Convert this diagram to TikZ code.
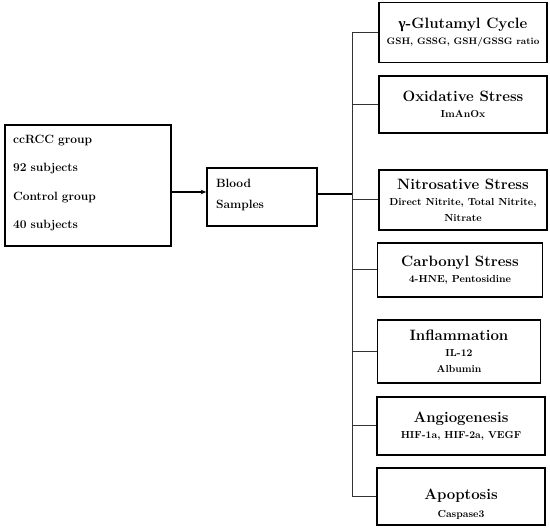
\documentclass[tikz,border=0pt]{standalone}
\usepackage{fontspec}
\newfontfamily\grk{Liberation Serif}
\usetikzlibrary{arrows.meta}
\newcommand\ttl{\fontsize{15}{19}\selectfont\bfseries}
\newcommand\sbt{\fontsize{10.2}{16}\selectfont\bfseries}
\newcommand\lft{\fontsize{12}{28.3}\selectfont\bfseries}
\tikzset{
  node-box/.style={draw=black,line width=1.4pt,inner sep=0pt,align=center,font=\sbt},
  node-left/.style={draw=black,line width=1.4pt,inner ysep=0pt,align=left},
  arrow/.style={-{Stealth[length=2mm,width=1.6mm]},line width=1.8pt,draw=black},
  link/.style={line width=1.4pt,draw=black},
  trunk/.style={line width=1pt,draw=black!80},
  branch/.style={line width=1pt,draw=black!80},
}
\begin{document}
\begin{tikzpicture}[x=1pt,y=-1pt]
  \useasboundingbox (0,0) rectangle (550,532);
  % groups and samples
  \node[node-left,inner xsep=8pt,text width=150pt,minimum height=121pt,font=\lft] (grp) at (88,185.5)
    {ccRCC group\\92 subjects\\Control group\\40 subjects\\[-21pt]\mbox{}};
  \node[node-left,inner xsep=9pt,text width=92pt,minimum height=58pt,
    font=\fontsize{12}{21}\selectfont\bfseries] (blood) at (262,197)
    {Blood\\Samples\\[-14pt]\mbox{}};
  % outcome boxes
  \node[node-box,minimum width=168pt,minimum height=60pt] (cyc) at (463,32.5)
    {\ttl{\grk γ}-Glutamyl Cycle\\\fontsize{9.4}{16}\selectfont GSH, GSSG, GSH/GSSG ratio};
  \node[node-box,minimum width=168pt,minimum height=57pt] (oxi) at (463,104.5)
    {\ttl Oxidative Stress\\\sbt ImAnOx};
  \node[node-box,minimum width=168pt,minimum height=60pt] (nit) at (463,200)
    {\ttl Nitrosative Stress\\\sbt Direct Nitrite, Total Nitrite,\\Nitrate};
  \node[node-box,minimum width=165pt,minimum height=54pt] (car) at (460,270)
    {\ttl Carbonyl Stress\\\sbt 4-HNE, Pentosidine};
  \node[node-box,minimum width=163pt,minimum height=63pt] (inf) at (459,351.5)
    {\ttl Inflammation\\\sbt IL-12\\Albumin};
  \node[node-box,minimum width=168pt,minimum height=58pt] (ang) at (461,426)
    {\ttl Angiogenesis\\\sbt HIF-1a, HIF-2a, VEGF};
  \node[node-box,minimum width=168pt,minimum height=57pt] (apo) at (461,496.5)
    {\mbox{}\\[10pt]\ttl Apoptosis\\[2pt]\sbt Caspase3};
  \coordinate (jn) at (352,0);
  % connectors
  \draw[arrow] ([yshift=-6.5pt]grp.east) -- ([yshift=5pt]blood.west);
  \draw[link] ([yshift=3pt]blood.east) -- ([yshift=3pt]blood.east -| jn);
  \draw[trunk] (cyc.west -| jn) -- (apo.west -| jn);
  \foreach \b in {cyc,oxi,nit,car,inf,ang,apo}
    \draw[branch] (\b.west -| jn) -- (\b.west);
\end{tikzpicture}
\end{document}
